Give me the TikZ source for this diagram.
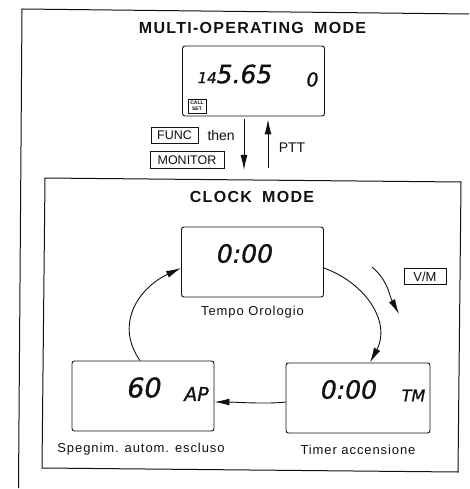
\documentclass[tikz,border=0pt]{standalone}
\usepackage{fontspec}
\setmainfont{Liberation Sans}
\newfontfamily\lcdfont[FakeBold=1.2]{DejaVu Sans}
\newfontfamily\titlefont[LetterSpace=8,WordSpace=1.8]{Liberation Sans}
\newfontfamily\labelfont[LetterSpace=7]{Liberation Sans}
\usepackage{xcolor}
\usetikzlibrary{arrows.meta,positioning}
\definecolor{scanBlack}{HTML}{111111}

\begin{document}
\begin{tikzpicture}[
  x=1pt, y=-1pt,
  every node/.style={align=center, text=scanBlack, inner sep=0pt, font=\labelfont\fontsize{13}{15}\selectfont},
  display/.style={draw=scanBlack, line width=0.9pt, rounded corners=2.5pt, minimum width=142pt, minimum height=70pt},
  frameline/.style={draw=scanBlack, line width=1pt},
  keycap/.style={draw=scanBlack, line width=0.6pt, font=\fontsize{12.5}{14}\selectfont, minimum height=16.5pt},
  titletext/.style={font=\titlefont\bfseries\fontsize{16}{18}\selectfont},
  bigread/.style={font=\lcdfont\itshape\fontsize{25}{28}\selectfont},
  smallread/.style={font=\lcdfont\itshape\fontsize{16}{18}\selectfont},
  flow/.style={-{Latex[length=15pt,width=7pt]}, draw=scanBlack, line width=0.9pt},
  node distance=8pt,
]
  \useasboundingbox (0,0) rectangle (469,489);
  % frames
  \draw[frameline] (18.5,488) -- (22,9) -- (469,14);
  \draw[frameline] (45,178) -- (461,182) -- (458,472) -- (42,468) -- cycle;
  \node[titletext] (multititle) at (252.5,28) {MULTI-OPERATING MODE};
  \node[titletext] (clocktitle) at (252,197) {CLOCK MODE};
  % displays
  \node[display] (multi) at (253.5,81) {};
  \node[display] (clock) at (252.5,262) {};
  \node[display] (spegn) at (143,396) {};
  \node[display, minimum width=144pt] (timer) at (358,398) {};
  \node[bigread] (freq) at (235,74) {{\fontsize{15}{16}\selectfont 14}5.65};
  \node[smallread, font=\lcdfont\itshape\fontsize{19}{20}\selectfont] (mem) at (312.5,79.5) {0};
  \node[draw=scanBlack, line width=0.6pt, font=\bfseries\fontsize{5}{5.5}\selectfont, minimum width=18pt, minimum height=14pt] (callset) at (197,106) {CALL\\SET};
  \node[bigread] (clockread) at (245,253.5) {0:00};
  \node[bigread, font=\lcdfont\itshape\fontsize{27}{28}\selectfont] (spegnread) at (144.5,387.5) {60};
  \node[smallread, font=\lcdfont\itshape\fontsize{19}{20}\selectfont] (spegnmark) at (196.5,394) {AP};
  \node[bigread] (timerread) at (349,389.5) {0:00};
  \node[smallread] (timermark) at (413.5,395.5) {TM};
  % labels
  \node[below=8.5pt of clock] (clocklabel) {Tempo Orologio};
  \node[below=11.5pt of spegn, xshift=-2pt] (spegnlabel) {Spegnim. autom. escluso};
  \node[below=11.5pt of timer] (timerlabel) {Timer accensione};
  % keys
  \node[keycap, minimum width=47pt] (func) at (174.5,135.5) {FUNC};
  \node[right=9pt of func, font=\fontsize{14}{16}\selectfont] (then) {then};
  \node[keycap, minimum width=74pt] (monitor) at (187,160) {MONITOR};
  \node[font=\fontsize{14}{16}\selectfont] (ptt) at (292,148) {PTT};
  \node[keycap, minimum width=42pt, font=\fontsize{13}{15}\selectfont] (vm) at (425,276.5) {V/M};
  % connectors
  \coordinate (downend) at (244,170);
  \coordinate (upstart) at (268,168);
  \coordinate (turnstart) at (372,267);
  \coordinate (turnend) at (399,314);
  \draw[flow, shorten <=3pt] ([xshift=-9.5pt]multi.south) -- (downend);
  \draw[flow, shorten >=3pt] (upstart) -- ([xshift=14.5pt]multi.south);
  \draw[flow] ([yshift=-6pt]clock.east) to[out=-20, in=62, looseness=1.1] ([xshift=12pt]timer.north);
  \draw[flow] ([yshift=-4pt]timer.west) to[out=188, in=0, looseness=0.6] ([yshift=-6pt]spegn.east);
  \draw[flow] ([xshift=-3pt]spegn.north) to[out=125, in=205, looseness=1.15] ([yshift=-6pt]clock.west);
  \draw[flow] (turnstart) to[out=-40, in=118] (turnend);
\end{tikzpicture}
\end{document}
